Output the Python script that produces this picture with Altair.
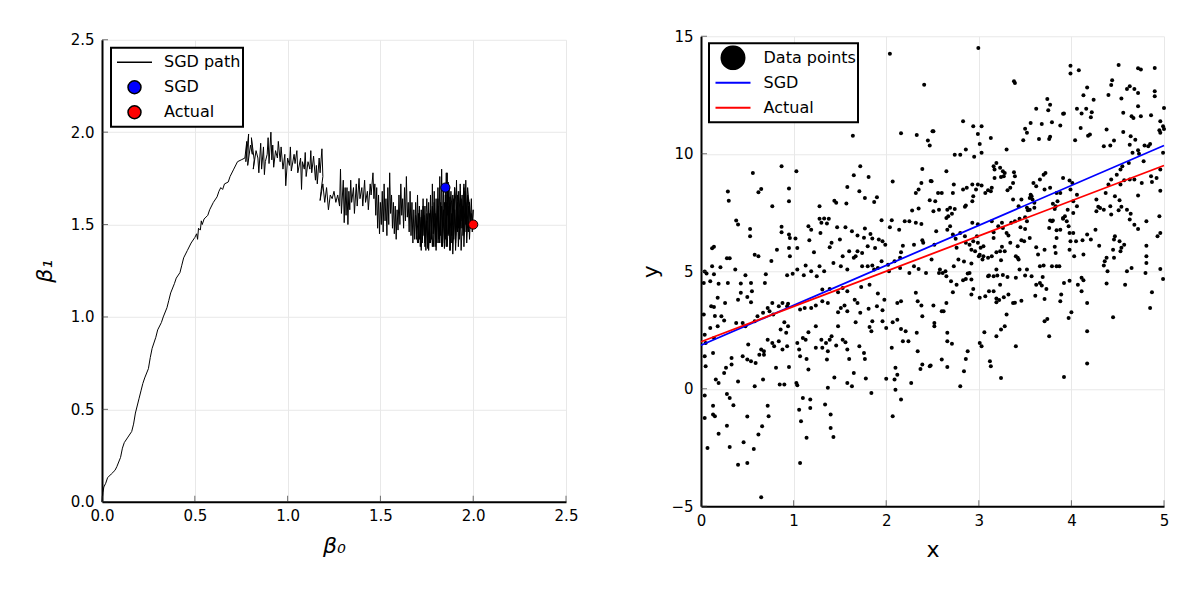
import altair as alt
import pandas as pd

# ---------------- data ----------------
# SGD path in (beta0, beta1) space
sgd_path = [
    (0.0, 0.0), (0.005, 0.05), (0.01, 0.08), (0.02, 0.10), (0.03, 0.13), (0.05, 0.15), (0.07, 0.17),
    (0.08, 0.19), (0.10, 0.24), (0.11, 0.29), (0.12, 0.32), (0.14, 0.35), (0.16, 0.38), (0.17, 0.42),
    (0.18, 0.48), (0.20, 0.56), (0.21, 0.60), (0.22, 0.64), (0.23, 0.67), (0.25, 0.72), (0.26, 0.78),
    (0.27, 0.83), (0.29, 0.89), (0.30, 0.93), (0.32, 0.97), (0.33, 1.00), (0.35, 1.05), (0.36, 1.09),
    (0.37, 1.13), (0.39, 1.18), (0.40, 1.21), (0.42, 1.24), (0.43, 1.28), (0.44, 1.32), (0.46, 1.36),
    (0.48, 1.40), (0.50, 1.43), (0.51, 1.45), (0.515, 1.42), (0.52, 1.48), (0.53, 1.47), (0.535, 1.52),
    (0.54, 1.50), (0.55, 1.53), (0.57, 1.55), (0.58, 1.58), (0.60, 1.62), (0.62, 1.65), (0.63, 1.68),
    (0.64, 1.70), (0.65, 1.69), (0.66, 1.72), (0.68, 1.73), (0.69, 1.76), (0.71, 1.80), (0.73, 1.84),
    (0.75, 1.85), (0.77, 1.86),
    (0.78, 1.95), (0.775, 1.84), (0.79, 1.99), (0.785, 1.82), (0.80, 1.93), (0.81, 1.88), (0.805, 1.97),
    (0.82, 1.85), (0.815, 1.80), (0.83, 1.90), (0.84, 1.86), (0.845, 1.78), (0.855, 1.94), (0.86, 1.80),
    (0.87, 1.92), (0.875, 1.77), (0.88, 1.84), (0.89, 1.88), (0.895, 1.97), (0.90, 1.83), (0.91, 2.00),
    (0.915, 1.85), (0.92, 1.93), (0.925, 1.81), (0.935, 1.90), (0.945, 1.86), (0.95, 1.95), (0.96, 1.84),
    (0.965, 1.92), (0.975, 1.80), (0.985, 1.88), (0.99, 1.71), (1.00, 1.86), (1.01, 1.82), (1.015, 1.92),
    (1.02, 1.79), (1.035, 1.88), (1.04, 1.83), (1.05, 1.90), (1.055, 1.78), (1.07, 1.86), (1.075, 1.69),
    (1.08, 1.84), (1.09, 1.80), (1.095, 1.89), (1.10, 1.76), (1.11, 1.84), (1.12, 1.80), (1.125, 1.90),
    (1.13, 1.78), (1.14, 1.87), (1.15, 1.74), (1.155, 1.82), (1.16, 1.72), (1.17, 1.86), (1.175, 1.78),
    (1.185, 1.91), (1.19, 1.76),
    (1.18, 1.68), (1.175, 1.63), (1.19, 1.72), (1.20, 1.62), (1.21, 1.70), (1.22, 1.58), (1.23, 1.66),
    (1.24, 1.64), (1.25, 1.68), (1.26, 1.62), (1.27, 1.66), (1.28, 1.60), (1.285, 1.80), (1.29, 1.56),
    (1.30, 1.74), (1.305, 1.51), (1.31, 1.70), (1.315, 1.55), (1.32, 1.70), (1.325, 1.50), (1.33, 1.68),
    (1.335, 1.58), (1.34, 1.74), (1.345, 1.62), (1.355, 1.70), (1.36, 1.56), (1.37, 1.72), (1.375, 1.60),
    (1.385, 1.75), (1.39, 1.64), (1.40, 1.70), (1.405, 1.60), (1.415, 1.74), (1.42, 1.62), (1.43, 1.68),
    (1.435, 1.58), (1.445, 1.72), (1.45, 1.66), (1.46, 1.78), (1.465, 1.64), (1.47, 1.72),
    (1.475, 1.55), (1.48, 1.70), (1.485, 1.48), (1.49, 1.66), (1.495, 1.45), (1.50, 1.62), (1.505, 1.50),
    (1.51, 1.68), (1.515, 1.46), (1.52, 1.72), (1.525, 1.52), (1.53, 1.64), (1.535, 1.44), (1.54, 1.70),
    (1.545, 1.50), (1.55, 1.78), (1.555, 1.56), (1.56, 1.66), (1.565, 1.48), (1.57, 1.62), (1.575, 1.45),
    (1.58, 1.60), (1.585, 1.42), (1.59, 1.58), (1.595, 1.47), (1.60, 1.66), (1.605, 1.50), (1.61, 1.72),
    (1.615, 1.55), (1.62, 1.64), (1.625, 1.48), (1.63, 1.70), (1.635, 1.52), (1.64, 1.76), (1.645, 1.54),
    (1.65, 1.62), (1.655, 1.46), (1.66, 1.68),
    (1.665, 1.44), (1.67, 1.62), (1.675, 1.40), (1.68, 1.58), (1.685, 1.42), (1.69, 1.62), (1.695, 1.45),
    (1.70, 1.66), (1.705, 1.40), (1.71, 1.60), (1.715, 1.38), (1.72, 1.58), (1.725, 1.42), (1.73, 1.64),
    (1.735, 1.44), (1.74, 1.60), (1.745, 1.36), (1.75, 1.56), (1.755, 1.38), (1.76, 1.62), (1.765, 1.40),
    (1.77, 1.66), (1.775, 1.42), (1.78, 1.72), (1.785, 1.45), (1.79, 1.68), (1.795, 1.38), (1.80, 1.64),
    (1.805, 1.40), (1.81, 1.70), (1.815, 1.42), (1.82, 1.76), (1.825, 1.44), (1.83, 1.80), (1.835, 1.48),
    (1.84, 1.70), (1.845, 1.40), (1.85, 1.66), (1.855, 1.38), (1.86, 1.78), (1.865, 1.44), (1.87, 1.70),
    (1.875, 1.36), (1.88, 1.62), (1.885, 1.40), (1.89, 1.66), (1.895, 1.42), (1.90, 1.70), (1.905, 1.44),
    (1.91, 1.74), (1.915, 1.46), (1.92, 1.68), (1.925, 1.42), (1.93, 1.72), (1.935, 1.48), (1.94, 1.66),
    (1.945, 1.44), (1.95, 1.70), (1.955, 1.46), (1.96, 1.74), (1.965, 1.50), (1.97, 1.66), (1.975, 1.46),
    (1.98, 1.62), (1.985, 1.48), (1.99, 1.56), (1.995, 1.50), (2.00, 1.58),
    (1.995, 1.46), (1.99, 1.64), (1.98, 1.42), (1.975, 1.60), (1.965, 1.40), (1.96, 1.62), (1.95, 1.38),
    (1.945, 1.60), (1.935, 1.36), (1.93, 1.58), (1.92, 1.38), (1.915, 1.62), (1.905, 1.36), (1.90, 1.58),
    (1.89, 1.34), (1.885, 1.56), (1.875, 1.36), (1.87, 1.60), (1.86, 1.38), (1.855, 1.62), (1.845, 1.37),
    (1.84, 1.58), (1.83, 1.38), (1.825, 1.62), (1.815, 1.40), (1.81, 1.60), (1.80, 1.36), (1.795, 1.56),
    (1.785, 1.38), (1.78, 1.60), (1.77, 1.40), (1.765, 1.56), (1.755, 1.37), (1.75, 1.52), (1.74, 1.38),
    (1.735, 1.55), (1.725, 1.40), (1.72, 1.54), (1.71, 1.42), (1.705, 1.56), (1.695, 1.42), (1.69, 1.55),
    (1.70, 1.40), (1.71, 1.58), (1.72, 1.36), (1.73, 1.60), (1.74, 1.40), (1.75, 1.64), (1.76, 1.36),
    (1.77, 1.58), (1.78, 1.38), (1.79, 1.62), (1.80, 1.42), (1.81, 1.64), (1.82, 1.40), (1.83, 1.60),
    (1.835, 1.38), (1.845, 1.62), (1.85, 1.42), (1.86, 1.66), (1.865, 1.45), (1.875, 1.65), (1.885, 1.44),
    (1.895, 1.64), (1.905, 1.40), (1.915, 1.66), (1.925, 1.44), (1.935, 1.64), (1.945, 1.48), (1.955, 1.68),
    (1.965, 1.46), (1.975, 1.64), (1.985, 1.52), (1.97, 1.70), (1.96, 1.50), (1.95, 1.72), (1.94, 1.52),
    (1.93, 1.68), (1.92, 1.48), (1.90, 1.70), (1.89, 1.50), (1.88, 1.68), (1.87, 1.52), (1.865, 1.73),
    (1.86, 1.55), (1.855, 1.78), (1.85, 1.60), (1.85, 1.70),
]

# final estimate and true coefficients
coef_names = ["SGD", "Actual"]
coef_b0 = [1.85, 2.0]
coef_b1 = [1.70, 1.5]

# fitted lines in data space (end points at x = 0 and x = 5)
line_x = [0, 5]
sgd_line_y = [1.85, 10.35]
actual_line_y = [2.0, 9.5]

# data points (x, y)
data_points = [
    (2.04, 14.26), (2.41, 12.94), (1.64, 10.77), (2.16, 10.87), (2.33, 10.8), (2.45, 10.56), (2.51, 10.96), (2.47, 10.35),
    (0.87, 9.47), (0.56, 9.18), (1.03, 9.26), (1.72, 9.47), (1.65, 9.09), (2.39, 9.35), (0.29, 8.39), (0.30, 8.0),
    (0.65, 8.5), (0.62, 8.36), (0.95, 8.52), (0.95, 7.98), (0.77, 7.77), (1.28, 7.77), (1.44, 8.0), (1.46, 7.91),
    (1.57, 7.88), (1.58, 8.59), (1.71, 8.4), (1.77, 8.12), (1.81, 9.01), (1.87, 7.95), (1.9, 8.15), (2.07, 8.82),
    (2.32, 8.33), (2.38, 8.76), (2.48, 8.84), (2.35, 8.48), (2.47, 8.02), (2.28, 7.58), (2.35, 7.67), (0.38, 7.16),
    (0.40, 6.99), (0.53, 6.8), (0.53, 6.49), (0.87, 6.89), (0.87, 6.66), (0.95, 6.56), (0.96, 6.42), (1.02, 6.39),
    (0.82, 5.92), (0.95, 5.99), (0.96, 5.64), (1.04, 5.99), (0.58, 5.7), (0.62, 5.64), (0.76, 5.44), (0.12, 5.98),
    (0.14, 6.04), (0.28, 5.55), (0.31, 5.55), (0.37, 5.07), (0.21, 5.17), (0.12, 5.21), (0.04, 4.99), (0.06, 4.9),
    (0.14, 4.87), (0.29, 4.5), (0.48, 4.83), (0.43, 4.48), (0.54, 4.5), (0.70, 4.87), (0.69, 4.5), (0.93, 4.83),
    (0.99, 4.89), (1.04, 5.07), (1.13, 5.24), (1.17, 6.32), (1.19, 6.77), (1.16, 6.91), (1.29, 6.63), (1.28, 7.23),
    (1.3, 7.06), (1.38, 7.23), (1.36, 7.03), (1.33, 7.24), (1.47, 6.87), (1.56, 6.87), (1.63, 6.7), (1.69, 6.52),
    (1.77, 6.82), (1.76, 6.43), (1.83, 6.59), (1.85, 6.39), (1.95, 7.17), (2.06, 7.17), (2.04, 6.87), (2.14, 6.77),
    (2.2, 7.13), (2.25, 7.13), (2.32, 7.06), (2.38, 7.01), (2.39, 6.32), (2.40, 6.21), (2.52, 6.13), (2.3, 6.13),
    (2.18, 6.09), (1.99, 6.13), (1.96, 6.28), (1.92, 6.35), (1.88, 5.99), (1.8, 6.06), (1.74, 5.78), (1.67, 5.64),
    (1.6, 5.85), (1.53, 5.64), (1.39, 6.02), (1.41, 6.21), (1.5, 6.35), (1.22, 5.81), (1.28, 5.21), (1.19, 5.0),
    (1.25, 4.79), (1.11, 4.83), (1.43, 5.35), (1.33, 5.0), (1.51, 5.21), (1.58, 5.07), (1.65, 5.57), (1.69, 5.85),
    (1.74, 5.21), (1.8, 5.21), (1.85, 5.24), (1.91, 5.14), (1.95, 5.43), (2.02, 5.28), (2.09, 5.43), (2.15, 5.57),
    (2.16, 5.81), (2.25, 4.93), (2.3, 5.21), (2.35, 5.1), (2.43, 4.93), (2.49, 5.5), (2.15, 5.14), (2.03, 5.0),
    (1.87, 5.07), (0.03, 4.5), (0.1, 4.57), (0.19, 4.47), (0.43, 4.08), (0.55, 4.15), (0.54, 3.68), (0.5, 3.9),
    (0.4, 3.79), (0.18, 3.87), (0.26, 3.65), (0.14, 3.48), (0.11, 3.51), (0.03, 3.16), (0.22, 3.09), (0.15, 3.1),
    (0.25, 2.9), (0.18, 2.66), (0.1, 2.59), (0.04, 2.3), (0.05, 1.95), (0.14, 2.16), (0.13, 1.52), (0.04, 1.38),
    (0.05, 0.96), (0.16, 0.39), (0.19, 0.25), (0.25, 0.67), (0.27, 0.89), (0.33, 1.31), (0.33, 1.03), (0.4, 0.31),
    (0.45, 1.38), (0.5, 1.24), (0.51, 1.88), (0.38, 2.8), (0.45, 2.8), (0.48, 2.66), (0.58, 2.87), (0.61, 3.09),
    (0.67, 3.23), (0.72, 3.44), (0.77, 3.65), (0.74, 3.3), (0.78, 3.16), (0.84, 3.51), (0.88, 3.65), (0.93, 3.51),
    (0.94, 3.62), (0.9, 2.83), (0.94, 2.66), (0.92, 2.38), (0.86, 2.52), (0.77, 1.95), (0.79, 1.81), (0.84, 2.02),
    (0.88, 1.67), (0.93, 1.81), (0.72, 2.09), (0.68, 1.6), (0.65, 1.67), (0.68, 1.45), (0.63, 1.45), (0.59, 1.1),
    (0.54, 1.17), (0.67, 0.39), (0.58, 0.11), (0.81, 0.89), (0.85, 0.18), (0.9, 0.18), (0.95, 0.93), (1.03, 0.25),
    (1.04, 0.15), (1.04, 1.95), (1.06, 1.67), (1.1, 2.16), (1.13, 2.09), (1.16, 2.4), (1.07, 1.38), (1.14, 1.27),
    (1.16, 0.82), (1.24, 2.66), (1.3, 2.09), (1.24, 1.74), (1.31, 1.74), (1.37, 1.6), (1.36, 1.24), (1.35, 1.95),
    (1.39, 2.09), (1.41, 2.23), (1.46, 1.84), (1.44, 0.48), (1.37, 0.04), (1.48, 2.66), (1.53, 2.09), (1.56, 1.98),
    (1.58, 1.67), (1.6, 1.27), (1.65, 0.67), (1.58, 0.25), (1.63, 0.11), (1.67, 2.83), (1.71, 1.81), (1.76, 1.52),
    (1.77, 1.27), (1.78, 0.44), (1.84, -0.18), (1.84, 2.45), (1.82, 2.63), (1.85, 2.87), (1.9, 3.51), (1.96, 3.34),
    (1.98, 3.79), (1.96, 2.87), (2.0, 2.59), (2.06, 1.74), (2.0, 0.43), (2.09, 0.39), (2.12, 0.6), (2.1, -0.04),
    (2.1, 0.89), (2.07, 2.83), (2.12, 2.94), (2.16, 2.54), (2.21, 2.45), (2.18, 2.02), (2.24, 2.02), (2.27, 0.25),
    (2.34, 1.6), (2.33, 2.38), (2.37, 0.84), (2.39, 1.03), (2.48, 0.99), (2.52, 2.8), (2.39, 3.09), (2.38, 3.54),
    (2.34, 3.72), (2.32, 4.08), (2.12, 3.65), (2.16, 3.72), (1.91, 4.05), (1.82, 4.43), (1.73, 4.33), (1.58, 4.15),
    (1.53, 4.29), (1.48, 4.11), (1.39, 4.25), (1.31, 4.22), (1.37, 3.65), (1.31, 3.72), (1.24, 3.54), (1.19, 3.44),
    (1.12, 3.44), (1.07, 3.37), (1.48, 3.26), (1.51, 3.44), (1.55, 3.54), (1.58, 3.3), (1.66, 3.79), (1.69, 3.65),
    (1.81, 3.4), (1.72, 3.23), (0.04, -0.29), (0.04, -1.24), (0.13, -0.72), (0.13, -1.1), (0.15, -1.17), (0.07, -2.52),
    (0.19, -1.91), (0.28, -1.57), (0.28, -0.22), (0.31, -0.39), (0.35, -0.7), (0.31, -2.48), (0.4, -3.23), (0.46, -2.28),
    (0.5, -1.18), (0.5, -3.16), (0.57, -2.56), (0.62, -1.95), (0.66, -1.6), (0.72, -0.72), (0.73, -1.17), (0.65, -4.62),
    (1.07, -3.16), (1.06, -0.89), (1.08, -1.38), (1.1, -0.39), (1.14, -2.09), (1.18, -0.46), (1.18, -0.82), (1.34, -0.67),
    (1.4, -1.1), (1.4, -1.67), (1.43, -2.05), (2.07, -1.17), (2.16, -0.46),
    (2.995, 14.5), (3.38, 13.09), (3.39, 13.01), (3.99, 13.75), (3.99, 13.41), (4.08, 13.55), (4.51, 13.78), (4.72, 13.64),
    (4.75, 13.58), (4.9, 13.65), (4.44, 13.13), (4.43, 12.93), (4.17, 12.82), (4.13, 12.49), (4.24, 12.3), (4.40, 12.5),
    (4.54, 12.35), (4.6, 12.76), (4.63, 12.87), (4.68, 12.76), (4.72, 12.59), (4.9, 12.66), (4.9, 12.45), (5.0, 11.95),
    (3.74, 12.33), (3.77, 12.09), (3.62, 11.91), (3.75, 11.85), (3.91, 11.7), (4.06, 11.91), (4.11, 11.71), (4.16, 11.91),
    (4.22, 11.77), (4.21, 11.55), (4.56, 11.74), (4.72, 12.02), (4.65, 11.6), (4.67, 11.52), (4.75, 11.6), (4.86, 11.64),
    (4.96, 11.38), (4.99, 11.17), (4.95, 11.0), (2.83, 11.38), (2.94, 11.17), (3.03, 11.17), (2.50, 10.96), (2.99, 10.84),
    (3.01, 10.42), (3.13, 10.67), (2.86, 10.18), (3.03, 10.04), (2.74, 9.96), (2.8, 9.96), (2.95, 9.87), (3.3, 10.18),
    (3.48, 10.57), (3.5, 11.06), (3.52, 10.89), (3.56, 11.31), (3.68, 11.27), (3.79, 11.34), (3.88, 11.2), (3.65, 10.63),
    (3.77, 10.72), (3.76, 10.63), (3.92, 11.71), (4.04, 10.57), (4.1, 11.1), (4.18, 10.77), (4.2, 10.82), (4.35, 10.32),
    (4.42, 10.35), (4.46, 10.56), (4.38, 11.03), (4.56, 10.93), (4.64, 10.74), (4.69, 10.6), (4.63, 10.38), (4.72, 10.15),
    (4.66, 10.04), (4.79, 10.35), (4.83, 10.32), (4.85, 10.42), (4.96, 10.89), (5.0, 11.05), (4.99, 10.04), (4.96, 9.33),
    (4.92, 8.97), (4.87, 8.8), (4.96, 8.43), (4.95, 7.34), (4.96, 6.63), (4.93, 6.49), (4.99, 4.67), (4.96, 5.1),
    (4.85, 3.44), (4.87, 4.11), (4.8, 4.93), (4.81, 5.35), (4.81, 5.64), (4.81, 6.09), (4.81, 7.13), (4.72, 6.8),
    (4.68, 6.98), (4.63, 7.2), (4.64, 7.45), (4.6, 7.62), (4.54, 7.74), (4.51, 7.6), (4.52, 8.02), (4.47, 8.19),
    (4.53, 8.69), (4.57, 8.87), (4.63, 8.9), (4.68, 8.9), (4.76, 8.76), (4.72, 8.22), (4.86, 9.04), (4.78, 9.68),
    (4.73, 10.0), (4.62, 9.61), (4.53, 9.33), (4.55, 9.47), (4.49, 9.11), (4.43, 8.9), (4.4, 8.69), (4.37, 8.33),
    (4.42, 7.77), (4.35, 7.62), (4.31, 7.69), (4.27, 8.05), (4.29, 7.75), (4.27, 7.55), (4.43, 7.41), (4.47, 6.49),
    (4.46, 6.35), (4.52, 6.28), (4.54, 6.0), (4.53, 5.85), (4.57, 6.13), (4.46, 5.57), (4.45, 5.92), (4.38, 5.57),
    (4.36, 5.43), (4.35, 5.24), (4.39, 5.0), (4.38, 4.48), (4.58, 4.43), (4.6, 5.0), (4.65, 5.14), (4.45, 3.04),
    (4.3, 6.09), (4.26, 6.77), (4.17, 6.56), (4.21, 6.35), (4.12, 6.32), (4.13, 5.71), (4.11, 4.72), (4.13, 4.62),
    (4.07, 4.43), (4.11, 4.15), (4.17, 3.65), (4.17, 2.45), (4.17, 1.07), (4.02, 6.63), (3.98, 6.63), (3.99, 6.28),
    (3.98, 5.92), (4.03, 5.64), (4.05, 6.28), (3.97, 6.91), (3.95, 7.13), (3.93, 7.34), (3.96, 7.62), (4.02, 7.48),
    (4.06, 7.77), (4.02, 7.98), (4.06, 8.26), (3.99, 8.48), (4.01, 8.76), (3.98, 8.86), (3.91, 8.97), (3.88, 8.33),
    (3.84, 8.33), (3.85, 7.98), (3.83, 7.77), (3.82, 7.65), (3.8, 7.87), (3.84, 6.74), (3.84, 6.42), (3.82, 6.04),
    (3.83, 5.78), (3.79, 5.21), (3.84, 5.21), (3.87, 5.21), (3.89, 4.01), (3.88, 3.72), (3.92, 4.5), (3.98, 4.6),
    (3.97, 3.01), (4.0, 3.26), (3.92, 0.5), (3.77, 7.16), (3.8, 7.16), (3.77, 8.55), (3.71, 8.48), (3.7, 9.11),
    (3.72, 9.18), (3.66, 8.9), (3.62, 8.62), (3.59, 8.76), (3.56, 8.26), (3.6, 7.91), (3.57, 8.19), (3.55, 8.12),
    (3.52, 7.7), (3.55, 7.62), (3.46, 8.05), (3.43, 7.77), (3.37, 8.05), (3.38, 9.21), (3.39, 9.04), (3.37, 8.76),
    (3.34, 8.55), (3.31, 8.45), (3.28, 9.18), (3.26, 9.26), (3.23, 9.4), (3.17, 9.33), (3.19, 9.61), (3.16, 9.47),
    (3.27, 9.04), (3.24, 9.01), (3.17, 8.97), (3.13, 8.4), (3.14, 8.55), (3.1, 8.45), (3.07, 8.33), (3.03, 8.65),
    (2.99, 8.69), (2.93, 8.69), (2.97, 8.48), (2.93, 7.98), (2.87, 8.55), (2.83, 8.48), (2.73, 8.69), (2.72, 8.33),
    (2.65, 9.26), (2.66, 7.62), (2.69, 7.7), (2.74, 7.65), (2.71, 7.45), (2.65, 7.27), (2.67, 7.34), (2.54, 6.7),
    (2.57, 7.62), (2.6, 8.33), (2.69, 6.91), (2.66, 6.77), (2.72, 6.56), (2.75, 6.38), (2.76, 6.0), (2.8, 6.63),
    (2.85, 7.74), (2.86, 7.8), (2.94, 8.19), (2.93, 7.06), (2.94, 6.28), (2.9, 6.13), (2.99, 7.0), (3.02, 6.0),
    (3.05, 6.06), (3.1, 5.57), (3.14, 5.64), (3.04, 5.5), (3.01, 5.7), (3.16, 6.66), (3.16, 6.42), (3.14, 7.13),
    (3.21, 6.91), (3.25, 7.06), (3.26, 6.84), (3.3, 6.63), (3.32, 6.52), (3.25, 6.04), (3.23, 5.85), (3.34, 6.21),
    (3.35, 7.06), (3.39, 7.13), (3.44, 7.23), (3.45, 6.87), (3.5, 6.8), (3.5, 7.3), (3.53, 7.6), (3.55, 6.42),
    (3.49, 6.28), (3.42, 5.57), (3.4, 5.64), (3.43, 5.5), (3.44, 5.07), (3.52, 5.07), (3.5, 4.82), (3.4, 4.72),
    (3.31, 4.76), (3.26, 4.84), (3.2, 4.82), (3.23, 4.43), (3.32, 4.01), (3.27, 3.89), (3.19, 3.84), (3.19, 3.68),
    (3.22, 3.78), (3.37, 3.65), (3.39, 3.66), (3.46, 3.75), (3.3, 3.16), (3.28, 2.66), (3.24, 2.52), (3.19, 2.23),
    (3.4, 1.81), (3.24, 0.46), (3.12, 1.17), (3.13, 0.96), (3.06, 2.4), (3.01, 1.95), (3.03, 1.81), (3.01, 3.87),
    (3.07, 3.94), (3.11, 4.15), (3.16, 4.15), (3.1, 4.79), (3.16, 4.79), (3.11, 4.82), (3.19, 5.07), (3.24, 5.47),
    (3.28, 5.85), (3.19, 5.81), (3.05, 5.64), (2.99, 6.21), (2.98, 6.49), (2.85, 6.49), (2.86, 6.21), (2.92, 5.92),
    (2.96, 5.85), (2.92, 5.33), (2.9, 4.93), (2.88, 4.9), (2.86, 4.67), (2.83, 4.62), (2.92, 4.65), (2.94, 4.25),
    (2.92, 4.01), (3.0, 5.64), (2.84, 5.41), (2.78, 5.5), (2.73, 5.21), (2.64, 5.0), (2.58, 5.07), (2.57, 4.93),
    (2.61, 4.93), (2.65, 4.79), (2.70, 4.57), (2.76, 4.43), (2.72, 4.11), (2.65, 3.65), (2.62, 3.3), (2.6, 3.3),
    (2.51, 3.54), (2.52, 2.66), (2.66, 2.38), (2.66, 2.02), (2.71, 1.92), (2.6, 1.24), (2.66, 0.93), (2.84, 0.74),
    (2.86, 1.27), (2.88, 1.6), (2.8, 0.11), (2.47, 0.96), (3.57, 4.79), (3.61, 3.96), (3.62, 4.43), (3.66, 4.5),
    (3.69, 4.76), (3.68, 4.39), (3.71, 3.82), (3.73, 4.25), (3.71, 2.87), (3.74, 2.97), (3.76, 2.23), (3.7, 5.24),
    (3.66, 5.21), (3.62, 6.02), (3.64, 5.71), (3.71, 5.92), (3.76, 6.84), (3.79, 7.13), (3.91, 7.23), (3.88, 6.77),
    (3.91, 7.27), (3.52, 7.13), (3.42, 6.06), (3.46, 6.32), (3.58, 8.05), (3.6, 7.7), (2.49, 8.83), (2.53, 7.98),
    (2.51, 7.55), (2.56, 8.33),
]

# axis tick values
left_ticks = [0, 0.5, 1.0, 1.5, 2.0, 2.5]
right_x_ticks = [0, 1, 2, 3, 4, 5]
right_y_ticks = [-5, 0, 5, 10, 15]

left_legend_names = ["SGD path", "SGD", "Actual"]
left_legend_colors = ["black", "blue", "red"]
right_legend_names = ["Data points", "SGD", "Actual"]
right_legend_colors = ["black", "blue", "red"]

# ---------------- tables ----------------
path_df = pd.DataFrame({
    "step": list(range(len(sgd_path))),
    "b0": [p[0] for p in sgd_path],
    "b1": [p[1] for p in sgd_path],
})
coef_df = pd.DataFrame({"series": coef_names, "b0": coef_b0, "b1": coef_b1})
scatter_df = pd.DataFrame({"x": [p[0] for p in data_points], "y": [p[1] for p in data_points]})
lines_df = pd.DataFrame({
    "series": ["SGD", "SGD", "Actual", "Actual"],
    "x": line_x + line_x,
    "y": sgd_line_y + actual_line_y,
})

FONT = "DejaVu Sans"
LW, LH = 464, 462
RW, RH = 463, 470


def circle_path(r):
    # unit-space circle for a custom legend symbol (unit 1 = half the symbol box)
    return f"M{r},0A{r},{r},0,1,1,{-r},0A{r},{r},0,1,1,{r},0Z"


# ---------------- left panel ----------------
xl_scale = alt.Scale(domain=[0, 2.5], nice=False, zero=False)
yl_scale = alt.Scale(domain=[0, 2.5], nice=False, zero=False)

left_path = alt.Chart(path_df).mark_line(color="black", strokeWidth=1).encode(
    x=alt.X("b0:Q", scale=xl_scale,
            axis=alt.Axis(values=left_ticks, format=".1f", title="β₀", titleFontStyle="italic",
                          labelPadding=7, titlePadding=12)),
    y=alt.Y("b1:Q", scale=yl_scale,
            axis=alt.Axis(values=left_ticks, format=".1f", title="β₁", titleFontStyle="italic",
                          labelPadding=8, titlePadding=14)),
    order="step:Q",
)

left_legend = alt.Legend(
    title=None, orient="none", legendX=9, legendY=8, direction="vertical",
    fillColor="white", strokeColor="black", padding=2, rowPadding=0, clipHeight=25,
    symbolType={"expr": "datum.value === 'SGD path' ? 'stroke' : '" + circle_path(0.371) + "'"},
    symbolSize=1225,
    symbolStrokeWidth=1.5,
    symbolOffset=3, labelOffset=11, labelFontSize=16, labelFont=FONT,
    labelColor="black", cornerRadius=0,
)

left_points = alt.Chart(coef_df).mark_point(filled=True, size=85, stroke="black", strokeWidth=1,
                                             opacity=1).encode(
    x=alt.X("b0:Q", scale=xl_scale),
    y=alt.Y("b1:Q", scale=yl_scale),
    color=alt.Color("series:N", scale=alt.Scale(domain=left_legend_names, range=left_legend_colors),
                    legend=left_legend),
)

left_tick_x = alt.Chart(pd.DataFrame({"v": left_ticks})).mark_tick(
    color="#333333", thickness=1, size=6).encode(
    x=alt.X("v:Q", scale=xl_scale), y=alt.value(LH - 3))
left_tick_y = alt.Chart(pd.DataFrame({"v": left_ticks})).mark_tick(
    color="#333333", thickness=1, size=6).encode(
    y=alt.Y("v:Q", scale=yl_scale), x=alt.value(3))

left = alt.layer(left_path, left_tick_x, left_tick_y, left_points).properties(width=LW, height=LH)

# ---------------- right panel ----------------
xr_scale = alt.Scale(domain=[0, 5], nice=False, zero=False)
yr_scale = alt.Scale(domain=[-5, 15], nice=False, zero=False)

right_scatter = alt.Chart(scatter_df).mark_circle(size=16, color="black", opacity=1).encode(
    x=alt.X("x:Q", scale=xr_scale,
            axis=alt.Axis(values=right_x_ticks, format="d", title="x", labelPadding=7, titlePadding=11)),
    y=alt.Y("y:Q", scale=yr_scale,
            axis=alt.Axis(values=right_y_ticks, format="d", title="y", labelPadding=8, titlePadding=8,
                          labelExpr="replace(datum.label, '-', '\u2212')")),
)

right_legend = alt.Legend(
    title=None, orient="none", legendX=8, legendY=7, direction="vertical",
    fillColor="white", strokeColor="black", padding=2, rowPadding=0, clipHeight=25,
    symbolType={"expr": "datum.value === 'Data points' ? '" + circle_path(0.657) + "' : 'stroke'"},
    symbolSize=1225,
    symbolFillColor={"expr": "datum.value === 'Data points' ? 'black' : 'transparent'"},
    symbolStrokeWidth=2,
    symbolOffset=3.5, labelOffset=12, labelFontSize=16, labelFont=FONT,
    labelColor="black", cornerRadius=0,
)

right_lines = alt.Chart(lines_df).mark_line().encode(
    x=alt.X("x:Q", scale=xr_scale),
    y=alt.Y("y:Q", scale=yr_scale),
    strokeWidth=alt.value(1.8),
    color=alt.Color("series:N", scale=alt.Scale(domain=right_legend_names, range=right_legend_colors),
                    legend=right_legend),
)

right_tick_x = alt.Chart(pd.DataFrame({"v": right_x_ticks})).mark_tick(
    color="#333333", thickness=1, size=6).encode(
    x=alt.X("v:Q", scale=xr_scale), y=alt.value(RH - 3))
right_tick_y = alt.Chart(pd.DataFrame({"v": right_y_ticks})).mark_tick(
    color="#333333", thickness=1, size=6).encode(
    y=alt.Y("v:Q", scale=yr_scale), x=alt.value(3))

right = alt.layer(right_scatter, right_tick_x, right_tick_y, right_lines).properties(width=RW, height=RH)

chart = alt.hconcat(left, right, spacing=60, center=True).resolve_scale(
    color="independent").resolve_legend(color="independent").properties(
    padding={"left": 24, "top": 20, "right": 5, "bottom": 5}
).configure_view(
    stroke="transparent"
).configure_axis(
    labelFont=FONT, labelFontSize=15, labelColor="black", labelFlush=False,
    titleFont=FONT, titleFontSize=22, titleFontWeight="normal", titleColor="black",
    domainColor="black", domainWidth=2,
    gridColor="#e8e8e8", gridWidth=1,
    ticks=False,
).configure_legend(
    strokeWidth=2,
)

chart.save("out.html", embed_options={"renderer": "svg", "actions": False})
